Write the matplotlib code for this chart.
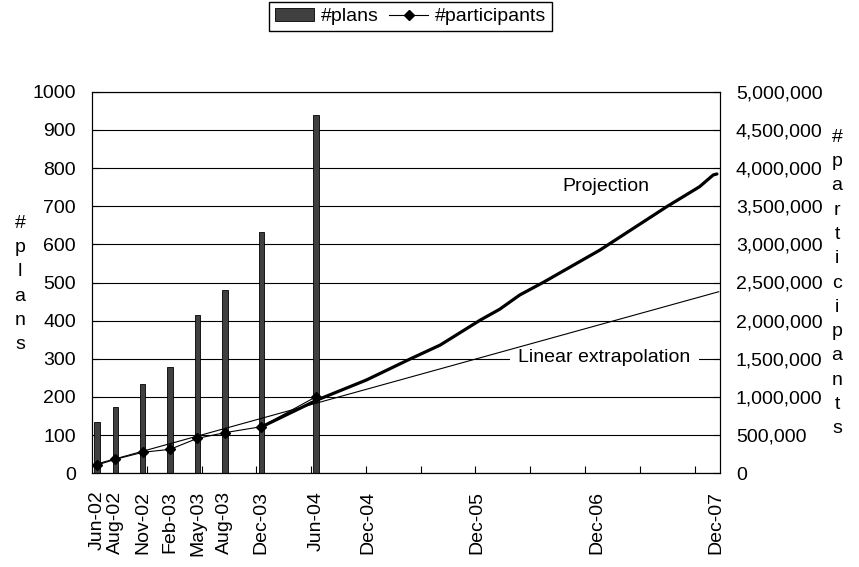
import matplotlib
matplotlib.use('Agg')
import matplotlib.pyplot as plt
import numpy as np
from matplotlib.patches import Patch
from matplotlib.lines import Line2D
from matplotlib.ticker import FuncFormatter

plt.rcParams['font.family'] = ['Liberation Sans', 'DejaVu Sans']
FS = 14

# ---- data (x in months since Jun-2002) ----
bar_months = [0, 2, 5, 8, 11, 14, 18, 24]
plans = [134, 173, 234, 278, 414, 480, 633, 940]
participants = [109000, 183000, 275000, 314000, 458000, 532000, 611000, 1004000]

proj_months = [18, 24.1, 29.5, 34.3, 37.6, 42.0, 44.1, 46.3, 48.9, 55.1, 62.4, 64.2, 66.0, 67.5, 67.9]
proj_values = [607000, 960000, 1222000, 1498000, 1681000, 2009000, 2149000, 2336000,
               2503000, 2926000, 3493000, 3624000, 3755000, 3909000, 3922000]

linear_months = [-0.44, 68.1]
linear_values = [108800, 2379000]

tick_labels = ['Jun-02', 'Aug-02', 'Nov-02', 'Feb-03', 'May-03', 'Aug-03', 'Dec-03',
               'Jun-04', 'Dec-04', 'Dec-05', 'Dec-06', 'Dec-07']
tick_months = [0, 2, 5, 8, 11, 14, 18, 24, 29.7, 41.6, 54.8, 67.8]

# ---- figure ----
fig = plt.figure(figsize=(8.59, 5.67), dpi=100)
ax = fig.add_axes([92 / 859, 93.7 / 567, 628 / 859, 381.6 / 567])

xmin, xmax = -0.55, 68.24
ax.set_xlim(xmin, xmax)
ax.set_ylim(0, 1000)
ax.set_yticks(np.arange(0, 1001, 100))
ax.grid(axis='y', color='black', lw=0.8)
ax.set_axisbelow(True)

ax.bar(bar_months, plans, width=0.6, color='#404040', edgecolor='black', lw=0.6, zorder=2)

ax.set_xticks(tick_months)
ax.set_xticklabels(tick_labels, rotation=90, ha='center', va='top')
ax.set_xticks(xmin + 6 * np.arange(1, 12), minor=True)
ax.tick_params(axis='x', which='major', length=0, labelsize=FS, pad=12.5)
ax.tick_params(axis='x', which='minor', direction='in', length=5, width=0.8)
ax.tick_params(axis='y', direction='in', length=5, width=0.8, labelsize=FS, pad=11.5)
for s in ax.spines.values():
    s.set_color('black')
    s.set_linewidth(0.8)

ax2 = ax.twinx()
ax2.set_ylim(0, 5000000)
ax2.set_yticks(np.arange(0, 5000001, 500000))
ax2.yaxis.set_major_formatter(FuncFormatter(lambda v, p: f'{v:,.0f}'))
ax2.tick_params(axis='y', direction='in', length=5, width=0.8, labelsize=FS, pad=11.5)
for s in ax2.spines.values():
    s.set_color('black')
    s.set_linewidth(0.8)

ax2.plot(linear_months, linear_values, color='black', lw=0.8, zorder=2)
ax2.plot(proj_months, proj_values, color='black', lw=2.3, solid_capstyle='round',
         solid_joinstyle='round', zorder=3)
ax2.plot(bar_months, participants, color='black', lw=0.8, marker='D', ms=5.5, zorder=4)

ax2.text(55.7, 3755000, 'Projection', ha='center', va='center', fontsize=FS, zorder=1)
ax2.text(55.6, 1511000, 'Linear extrapolation', ha='center', va='center', fontsize=FS,
         zorder=1, bbox=dict(facecolor='white', edgecolor='none', boxstyle='square,pad=0.45'))

fig.text(20 / 859, 1 - 284 / 567, '#\np\nl\na\nn\ns', ha='center', va='center',
         fontsize=FS, linespacing=1.56)
fig.text(837 / 859, 1 - 283 / 567, '#\np\na\nr\nt\ni\nc\ni\np\na\nn\nt\ns', ha='center',
         va='center', fontsize=FS, linespacing=1.56)

handles = [Patch(facecolor='#404040', edgecolor='black', lw=0.6),
           Line2D([], [], color='black', lw=0.8, marker='D', ms=5.5)]
leg = fig.legend(handles, ['#plans', '#participants'], loc='upper right',
                 bbox_to_anchor=(552 / 859, 1 - 2 / 567), ncol=2, fontsize=FS,
                 frameon=True, fancybox=False, edgecolor='black', framealpha=1,
                 handlelength=2.0, handletextpad=0.35, columnspacing=0.55,
                 borderpad=0.3, borderaxespad=0)
leg.get_frame().set_linewidth(1.0)

fig.savefig('out.png', dpi=100)
